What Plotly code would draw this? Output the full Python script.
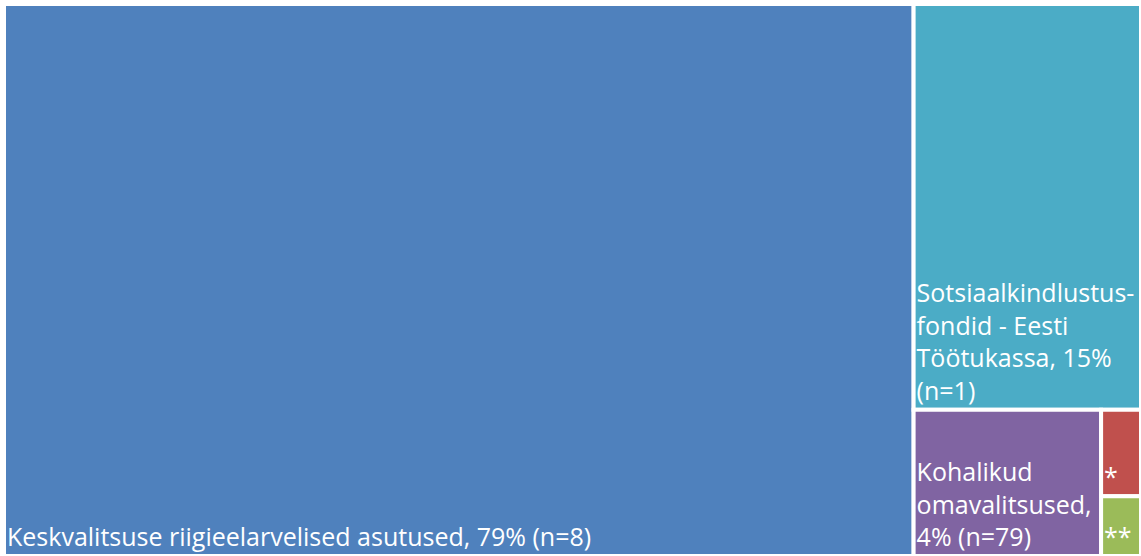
import plotly.graph_objects as go

categories = [
    "Keskvalitsuse riigieelarvelised asutused",
    "Sotsiaalkindlustusfondid - Eesti Töötukassa",
    "Kohalikud omavalitsused",
    "*",
    "**",
]
values = [80.0, 14.7, 4.37, 0.55, 0.38]
label_text = [
    "Keskvalitsuse riigieelarvelised asutused, 79% (n=8)",
    "Sotsiaalkindlustus-<br>fondid - Eesti<br>Töötukassa, 15%<br>(n=1)",
    "Kohalikud<br>omavalitsused,<br>4% (n=79)",
    "*",
    "**",
]
colors = ["#4F81BD", "#4BACC6", "#8064A2", "#C0504D", "#9BBB59"]

font = dict(family="Open Sans, sans-serif", size=25, color="white")

fig = go.Figure(
    go.Treemap(
        labels=categories,
        parents=[""] * len(categories),
        values=values,
        text=label_text,
        texttemplate="%{text}",
        textposition="bottom left",
        marker=dict(colors=colors, line=dict(color="white", width=4),
                    pad=dict(t=0, l=0, r=0, b=0)),
        tiling=dict(packing="squarify", pad=0),
        textfont=font,
        insidetextfont=font,
        pathbar=dict(visible=False),
        sort=True,
        hoverinfo="label+value",
    )
)
fig.update_layout(
    width=1141,
    height=556,
    margin=dict(l=4, r=0, t=4, b=0),
    paper_bgcolor="white",
    showlegend=False,
)
fig.write_html("out.html")
